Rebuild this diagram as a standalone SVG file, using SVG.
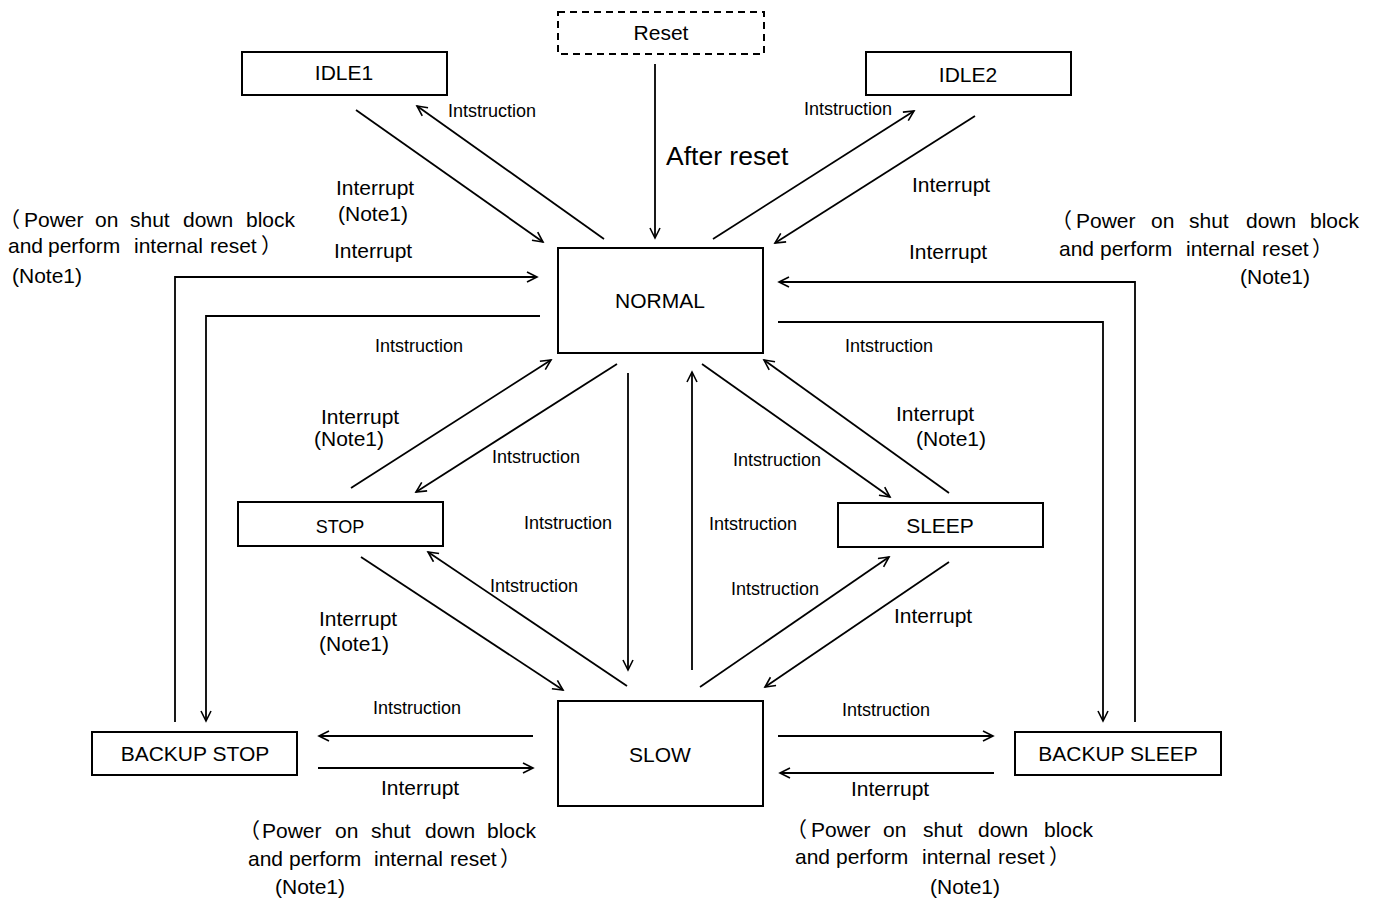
<svg xmlns="http://www.w3.org/2000/svg" width="1378" height="899" viewBox="0 0 1378 899">
<style>
.box{fill:#fff;stroke:#000;stroke-width:2}
.dash{stroke-dasharray:7,5}
.t{font-family:"Liberation Sans","Noto Sans CJK SC",sans-serif;font-size:21px;fill:#000}
.s{font-family:"Liberation Sans","Noto Sans CJK SC",sans-serif;font-size:18px;fill:#000}
.c{text-anchor:middle}
.ln{fill:none;stroke:#000;stroke-width:1.8}
</style>
<defs>
<marker id="ah" markerUnits="userSpaceOnUse" markerWidth="14" markerHeight="14" refX="11" refY="6" orient="auto">
<path d="M1,1 L11,6 L1,11" fill="none" stroke="#000" stroke-width="1.6"/>
</marker>
</defs>
<rect width="1378" height="899" fill="#fff"/>

<g id="reset"><rect class="box dash" x="558" y="12" width="206" height="42"/><text class="t c" x="661" y="40">Reset</text></g>
<g id="idle1"><rect class="box" x="242" y="52" width="205" height="43"/><text class="t c" x="344" y="80">IDLE1</text></g>
<g id="idle2"><rect class="box" x="866" y="52" width="205" height="43"/><text class="t c" x="968" y="82">IDLE2</text></g>
<g id="normal"><rect class="box" x="558" y="248" width="205" height="105"/><text class="t c" x="660" y="308">NORMAL</text></g>
<g id="stop"><rect class="box" x="238" y="502" width="205" height="44"/><text class="s c" x="340" y="533">STOP</text></g>
<g id="sleep"><rect class="box" x="838" y="503" width="205" height="44"/><text class="t c" x="940" y="533">SLEEP</text></g>
<g id="backup-stop"><rect class="box" x="92" y="732" width="205" height="43"/><text class="t c" x="195" y="761">BACKUP STOP</text></g>
<g id="slow"><rect class="box" x="558" y="701" width="205" height="105"/><text class="t c" x="660" y="762">SLOW</text></g>
<g id="backup-sleep"><rect class="box" x="1015" y="732" width="206" height="43"/><text class="t c" x="1118" y="761">BACKUP SLEEP</text></g>

<g id="connectors">
<path class="ln" marker-end="url(#ah)" d="M655,64 L655,238"/>
<path class="ln" marker-end="url(#ah)" d="M356,110 L543,242"/>
<path class="ln" marker-end="url(#ah)" d="M604,239 L417,106"/>
<path class="ln" marker-end="url(#ah)" d="M713,239 L914,111"/>
<path class="ln" marker-end="url(#ah)" d="M975,116 L775,243"/>
<path class="ln" marker-end="url(#ah)" d="M175,722 L175,277 L537,277"/>
<path class="ln" marker-end="url(#ah)" d="M540,316 L206,316 L206,721"/>
<path class="ln" marker-end="url(#ah)" d="M1135,722 L1135,282 L779,282"/>
<path class="ln" marker-end="url(#ah)" d="M778,322 L1103,322 L1103,721"/>
<path class="ln" marker-end="url(#ah)" d="M351,488 L551,360"/>
<path class="ln" marker-end="url(#ah)" d="M617,364 L416,492"/>
<path class="ln" marker-end="url(#ah)" d="M628,373 L628,670"/>
<path class="ln" marker-end="url(#ah)" d="M692,670 L692,372"/>
<path class="ln" marker-end="url(#ah)" d="M702,364 L890,497"/>
<path class="ln" marker-end="url(#ah)" d="M949,493 L764,360"/>
<path class="ln" marker-end="url(#ah)" d="M361,557 L563,690"/>
<path class="ln" marker-end="url(#ah)" d="M627,686 L428,552"/>
<path class="ln" marker-end="url(#ah)" d="M700,687 L889,557"/>
<path class="ln" marker-end="url(#ah)" d="M949,562 L765,687"/>
<path class="ln" marker-end="url(#ah)" d="M533,736 L319,736"/>
<path class="ln" marker-end="url(#ah)" d="M318,768 L533,768"/>
<path class="ln" marker-end="url(#ah)" d="M778,736 L993,736"/>
<path class="ln" marker-end="url(#ah)" d="M994,773 L780,773"/>
</g>

<g id="labels">
<text class="s" x="448" y="117">Intstruction</text>
<text class="t" x="666" y="165" style="font-size:26.5px">After reset</text>
<text class="s" x="804" y="115">Intstruction</text>
<text class="t" x="912" y="192">Interrupt</text>
<text class="t" x="336" y="195">Interrupt</text>
<text class="t" x="338" y="221">(Note1)</text>
<text class="t" x="334" y="258">Interrupt</text>
<text class="t" x="909" y="259">Interrupt</text>
<text class="s" x="375" y="352">Intstruction</text>
<text class="s" x="845" y="352">Intstruction</text>
<text class="t" x="321" y="424">Interrupt</text>
<text class="t" x="314" y="446">(Note1)</text>
<text class="t" x="896" y="421">Interrupt</text>
<text class="t" x="916" y="446">(Note1)</text>
<text class="s" x="492" y="463">Intstruction</text>
<text class="s" x="733" y="466">Intstruction</text>
<text class="s" x="524" y="529">Intstruction</text>
<text class="s" x="709" y="530">Intstruction</text>
<text class="s" x="490" y="592">Intstruction</text>
<text class="s" x="731" y="595">Intstruction</text>
<text class="t" x="319" y="626">Interrupt</text>
<text class="t" x="319" y="651">(Note1)</text>
<text class="t" x="894" y="623">Interrupt</text>
<text class="s" x="373" y="714">Intstruction</text>
<text class="s" x="842" y="716">Intstruction</text>
<text class="t" x="381" y="795">Interrupt</text>
<text class="t" x="851" y="796">Interrupt</text>

<text class="t" y="227"><tspan x="-1">（</tspan><tspan x="24">Power</tspan><tspan x="95">on</tspan><tspan x="130">shut</tspan><tspan x="183">down</tspan><tspan x="246">block</tspan></text>
<text class="t" y="253"><tspan x="8">and</tspan><tspan x="48">perform</tspan><tspan x="134">internal</tspan><tspan x="210">reset</tspan><tspan x="261">）</tspan></text>
<text class="t" x="12" y="283">(Note1)</text>

<text class="t" y="228"><tspan x="1051">（</tspan><tspan x="1076">Power</tspan><tspan x="1151">on</tspan><tspan x="1189">shut</tspan><tspan x="1246">down</tspan><tspan x="1310">block</tspan></text>
<text class="t" y="256"><tspan x="1059">and</tspan><tspan x="1100">perform</tspan><tspan x="1186">internal</tspan><tspan x="1262">reset</tspan><tspan x="1312">）</tspan></text>
<text class="t" x="1240" y="284">(Note1)</text>

<text class="t" y="838"><tspan x="239">（</tspan><tspan x="262">Power</tspan><tspan x="335">on</tspan><tspan x="371">shut</tspan><tspan x="425">down</tspan><tspan x="487">block</tspan></text>
<text class="t" y="866"><tspan x="248">and</tspan><tspan x="289">perform</tspan><tspan x="374">internal</tspan><tspan x="450">reset</tspan><tspan x="500">）</tspan></text>
<text class="t" x="275" y="894">(Note1)</text>

<text class="t" y="837"><tspan x="786">（</tspan><tspan x="811">Power</tspan><tspan x="883">on</tspan><tspan x="923">shut</tspan><tspan x="978">down</tspan><tspan x="1044">block</tspan></text>
<text class="t" y="864"><tspan x="795">and</tspan><tspan x="836">perform</tspan><tspan x="922">internal</tspan><tspan x="998">reset</tspan><tspan x="1049">）</tspan></text>
<text class="t" x="930" y="894">(Note1)</text>
</g>
</svg>
